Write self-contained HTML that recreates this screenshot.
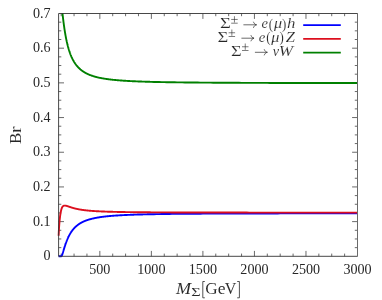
<!DOCTYPE html>
<html><head><meta charset="utf-8"><title>Br plot</title>
<style>html,body{margin:0;padding:0;background:#fff}svg{display:block;will-change:transform}text{font-family:"Liberation Serif",serif;fill:#262626;stroke:#fff;stroke-width:0.13px}.i{font-style:italic}.t{stroke:none}.a{stroke-width:0.06px}</style></head><body>
<svg width="382" height="300" viewBox="0 0 382 300">
<rect width="382" height="300" fill="#fff"/>
<defs><clipPath id="c"><rect x="57.10" y="13.00" width="300.60" height="245.30"/></clipPath></defs>
<path d="M61.18 256.30V253.60M61.18 13.50V16.20M74.06 256.30V253.60M74.06 13.50V16.20M86.94 256.30V253.60M86.94 13.50V16.20M99.83 256.30V250.90M99.83 13.50V18.90M112.71 256.30V253.60M112.71 13.50V16.20M125.59 256.30V253.60M125.59 13.50V16.20M138.48 256.30V253.60M138.48 13.50V16.20M151.36 256.30V250.90M151.36 13.50V18.90M164.25 256.30V253.60M164.25 13.50V16.20M177.13 256.30V253.60M177.13 13.50V16.20M190.01 256.30V253.60M190.01 13.50V16.20M202.90 256.30V250.90M202.90 13.50V18.90M215.78 256.30V253.60M215.78 13.50V16.20M228.66 256.30V253.60M228.66 13.50V16.20M241.55 256.30V253.60M241.55 13.50V16.20M254.43 256.30V250.90M254.43 13.50V18.90M267.31 256.30V253.60M267.31 13.50V16.20M280.20 256.30V253.60M280.20 13.50V16.20M293.08 256.30V253.60M293.08 13.50V16.20M305.97 256.30V250.90M305.97 13.50V18.90M318.85 256.30V253.60M318.85 13.50V16.20M331.73 256.30V253.60M331.73 13.50V16.20M344.62 256.30V253.60M344.62 13.50V16.20M58.60 247.63H61.30M357.50 247.63H354.80M58.60 238.96H61.30M357.50 238.96H354.80M58.60 230.29H61.30M357.50 230.29H354.80M58.60 221.61H64.00M357.50 221.61H352.10M58.60 212.94H61.30M357.50 212.94H354.80M58.60 204.27H61.30M357.50 204.27H354.80M58.60 195.60H61.30M357.50 195.60H354.80M58.60 186.93H64.00M357.50 186.93H352.10M58.60 178.26H61.30M357.50 178.26H354.80M58.60 169.59H61.30M357.50 169.59H354.80M58.60 160.91H61.30M357.50 160.91H354.80M58.60 152.24H64.00M357.50 152.24H352.10M58.60 143.57H61.30M357.50 143.57H354.80M58.60 134.90H61.30M357.50 134.90H354.80M58.60 126.23H61.30M357.50 126.23H354.80M58.60 117.56H64.00M357.50 117.56H352.10M58.60 108.89H61.30M357.50 108.89H354.80M58.60 100.21H61.30M357.50 100.21H354.80M58.60 91.54H61.30M357.50 91.54H354.80M58.60 82.87H64.00M357.50 82.87H352.10M58.60 74.20H61.30M357.50 74.20H354.80M58.60 65.53H61.30M357.50 65.53H354.80M58.60 56.86H61.30M357.50 56.86H354.80M58.60 48.19H64.00M357.50 48.19H352.10M58.60 39.51H61.30M357.50 39.51H354.80M58.60 30.84H61.30M357.50 30.84H354.80M58.60 22.17H61.30M357.50 22.17H354.80" stroke="#444" stroke-width="0.8" fill="none"/>
<g clip-path="url(#c)" fill="none" stroke-width="1.9" stroke-linejoin="round" stroke-linecap="butt">
<path d="M58.60 -49.82 L58.70 -45.58 L58.81 -41.65 L58.91 -38.01 L59.01 -34.63 L59.12 -31.51 L59.22 -28.60 L59.32 -25.91 L59.42 -23.40 L59.53 -21.07 L59.63 -18.90 L59.73 -16.87 L59.84 -14.97 L59.94 -13.20 L60.04 -11.53 L60.15 -9.97 L60.25 -8.50 L60.35 -7.11 L60.46 -5.81 L60.56 -4.58 L60.66 -3.42 L60.76 -2.32 L60.87 -1.28 L60.97 -0.29 L61.07 0.64 L61.18 1.53 L61.28 2.41 L61.38 3.31 L61.49 4.24 L61.59 5.18 L61.69 6.13 L61.80 7.08 L61.90 8.04 L62.00 9.00 L62.10 9.95 L62.21 10.90 L62.31 11.85 L62.41 12.78 L62.52 13.71 L62.62 14.63 L62.72 15.54 L62.83 16.43 L62.93 17.32 L63.03 18.19 L63.14 19.05 L63.24 19.89 L63.34 20.73 L63.44 21.55 L63.55 22.35 L63.65 23.15 L63.75 23.93 L63.86 24.70 L63.96 25.45 L64.06 26.19 L64.17 26.92 L64.27 27.64 L64.37 28.34 L64.47 29.03 L64.58 29.71 L64.68 30.38 L64.78 31.03 L64.89 31.68 L64.99 32.31 L65.09 32.93 L65.20 33.54 L65.30 34.14 L65.40 34.73 L65.51 35.31 L65.61 35.88 L65.71 36.44 L65.81 36.99 L65.92 37.53 L66.02 38.06 L66.12 38.58 L66.23 39.09 L66.33 39.60 L66.43 40.09 L66.54 40.58 L66.64 41.06 L66.74 41.53 L66.85 41.99 L66.95 42.45 L67.05 42.90 L67.15 43.34 L67.26 43.77 L67.36 44.20 L67.46 44.62 L67.57 45.03 L67.67 45.43 L67.77 45.83 L67.88 46.23 L67.98 46.61 L68.08 46.99 L68.19 47.37 L68.29 47.74 L68.39 48.10 L68.49 48.46 L68.60 48.81 L68.70 49.16 L68.80 49.50 L68.91 49.84 L69.01 50.17 L69.11 50.49 L69.22 50.81 L69.32 51.13 L69.42 51.44 L69.53 51.75 L69.63 52.05 L69.73 52.35 L69.83 52.65 L69.94 52.94 L70.04 53.22 L70.14 53.50 L70.25 53.78 L70.35 54.06 L70.45 54.33 L70.56 54.59 L70.66 54.85 L70.76 55.11 L70.87 55.37 L70.97 55.62 L71.07 55.87 L71.17 56.11 L71.28 56.36 L71.38 56.59 L71.48 56.83 L71.59 57.06 L71.69 57.29 L71.79 57.52 L71.90 57.74 L72.00 57.96 L72.10 58.18 L72.21 58.39 L72.31 58.60 L72.41 58.81 L72.51 59.02 L72.62 59.22 L72.72 59.42 L72.82 59.62 L72.93 59.82 L73.03 60.01 L73.13 60.20 L73.24 60.39 L73.34 60.58 L73.44 60.76 L73.55 60.95 L73.65 61.13 L73.75 61.30 L73.85 61.48 L73.96 61.65 L74.06 61.82 L74.16 61.99 L74.27 62.16 L74.37 62.33 L74.47 62.49 L74.58 62.65 L74.68 62.81 L74.78 62.97 L74.88 63.12 L74.99 63.28 L75.09 63.43 L75.19 63.58 L75.30 63.73 L75.40 63.88 L75.50 64.02 L75.61 64.16 L75.71 64.31 L75.81 64.45 L75.92 64.59 L76.02 64.72 L76.12 64.86 L76.22 64.99 L76.33 65.13 L76.43 65.26 L76.53 65.39 L76.64 65.52 L76.74 65.64 L76.84 65.77 L76.95 65.89 L77.05 66.02 L77.15 66.14 L77.26 66.26 L77.36 66.38 L77.46 66.50 L77.56 66.61 L77.67 66.73 L77.77 66.84 L77.87 66.96 L77.98 67.07 L78.08 67.18 L78.18 67.29 L78.29 67.40 L78.39 67.51 L78.49 67.61 L78.60 67.72 L78.70 67.82 L78.80 67.92 L78.90 68.03 L79.01 68.13 L79.11 68.23 L79.21 68.33 L79.32 68.42 L79.42 68.52 L79.52 68.62 L79.63 68.71 L79.73 68.81 L79.83 68.90 L79.94 68.99 L80.04 69.09 L80.14 69.18 L80.24 69.27 L80.35 69.35 L80.45 69.44 L80.55 69.53 L80.66 69.62 L80.76 69.70 L80.86 69.79 L80.97 69.87 L81.07 69.95 L81.17 70.04 L81.28 70.12 L81.38 70.20 L81.48 70.28 L81.58 70.36 L81.69 70.44 L81.79 70.52 L81.89 70.59 L82.00 70.67 L82.10 70.75 L82.20 70.82 L82.31 70.90 L82.41 70.97 L82.51 71.04 L82.62 71.11 L82.72 71.19 L82.82 71.26 L82.92 71.33 L83.03 71.40 L83.13 71.47 L83.23 71.54 L83.34 71.60 L83.44 71.67 L83.54 71.74 L83.65 71.81 L83.75 71.87 L83.85 71.94 L83.95 72.00 L84.06 72.07 L84.16 72.13 L84.26 72.19 L84.37 72.25 L84.47 72.32 L84.57 72.38 L84.68 72.44 L84.78 72.50 L84.88 72.56 L84.99 72.62 L85.09 72.68 L85.19 72.74 L85.29 72.79 L85.40 72.85 L85.50 72.91 L85.60 72.97 L85.71 73.02 L85.81 73.08 L85.91 73.13 L86.02 73.19 L86.12 73.24 L86.22 73.29 L86.33 73.35 L86.43 73.40 L86.53 73.45 L86.63 73.51 L86.74 73.56 L86.84 73.61 L86.94 73.66 L87.05 73.71 L87.15 73.76 L87.25 73.81 L87.36 73.86 L87.46 73.91 L87.56 73.96 L87.67 74.00 L87.77 74.05 L87.87 74.10 L87.97 74.15 L88.08 74.19 L88.18 74.24 L88.28 74.29 L88.39 74.33 L88.49 74.38 L88.59 74.42 L88.70 74.47 L88.80 74.51 L88.90 74.55 L89.01 74.60 L89.11 74.64 L89.21 74.68 L89.31 74.73 L89.42 74.77 L89.52 74.81 L90.04 75.02 L90.55 75.21 L91.07 75.40 L91.58 75.59 L92.10 75.77 L92.61 75.94 L93.13 76.10 L93.64 76.26 L94.16 76.42 L94.67 76.57 L95.19 76.71 L95.70 76.85 L96.22 76.99 L96.74 77.12 L97.25 77.25 L97.77 77.37 L98.28 77.49 L98.80 77.60 L99.31 77.72 L99.83 77.83 L100.34 77.93 L100.86 78.03 L101.37 78.13 L101.89 78.23 L102.40 78.32 L102.92 78.42 L103.44 78.51 L103.95 78.59 L104.47 78.68 L104.98 78.76 L105.50 78.84 L106.01 78.92 L106.53 78.99 L107.04 79.06 L107.56 79.14 L108.07 79.21 L108.59 79.27 L109.10 79.34 L109.62 79.40 L110.13 79.47 L110.65 79.53 L111.17 79.59 L111.68 79.65 L112.20 79.71 L112.71 79.76 L113.23 79.82 L113.74 79.87 L114.26 79.92 L114.77 79.97 L115.29 80.02 L115.80 80.07 L116.32 80.12 L116.83 80.16 L117.35 80.21 L117.86 80.25 L118.38 80.30 L118.90 80.34 L119.41 80.38 L119.93 80.42 L120.44 80.46 L120.96 80.50 L121.47 80.54 L121.99 80.57 L122.50 80.61 L123.02 80.65 L123.53 80.68 L124.05 80.72 L124.56 80.75 L125.08 80.78 L125.59 80.82 L126.11 80.85 L126.63 80.88 L127.14 80.91 L127.66 80.94 L128.17 80.97 L128.69 81.00 L129.20 81.02 L129.72 81.05 L130.23 81.08 L130.75 81.11 L131.26 81.13 L131.78 81.16 L132.29 81.18 L132.81 81.21 L133.32 81.23 L133.84 81.26 L134.36 81.28 L134.87 81.30 L135.39 81.32 L135.90 81.35 L136.42 81.37 L136.93 81.39 L137.45 81.41 L137.96 81.43 L138.48 81.45 L138.99 81.47 L139.51 81.49 L140.02 81.51 L140.54 81.53 L141.06 81.55 L141.57 81.57 L142.09 81.58 L142.60 81.60 L143.12 81.62 L143.63 81.64 L144.15 81.65 L144.66 81.67 L145.18 81.69 L145.69 81.70 L146.21 81.72 L146.72 81.73 L147.24 81.75 L147.75 81.77 L148.27 81.78 L148.79 81.80 L149.30 81.81 L149.82 81.82 L150.33 81.84 L150.85 81.85 L151.36 81.87 L153.94 81.93 L156.52 81.99 L159.09 82.05 L161.67 82.10 L164.25 82.15 L166.82 82.19 L169.40 82.24 L171.98 82.28 L174.55 82.32 L177.13 82.35 L179.71 82.39 L182.28 82.42 L184.86 82.45 L187.44 82.48 L190.01 82.50 L192.59 82.53 L195.17 82.55 L197.74 82.57 L200.32 82.60 L202.90 82.62 L205.47 82.64 L208.05 82.65 L210.63 82.67 L213.20 82.69 L215.78 82.71 L218.36 82.72 L220.93 82.74 L223.51 82.75 L226.09 82.76 L228.66 82.78 L231.24 82.79 L233.82 82.80 L236.39 82.81 L238.97 82.82 L241.55 82.83 L244.12 82.84 L246.70 82.85 L249.28 82.86 L251.85 82.87 L254.43 82.88 L257.01 82.89 L259.58 82.90 L262.16 82.90 L264.74 82.91 L267.31 82.92 L269.89 82.93 L272.47 82.93 L275.04 82.94 L277.62 82.94 L280.20 82.95 L282.77 82.96 L285.35 82.96 L287.93 82.97 L290.51 82.97 L293.08 82.98 L295.66 82.98 L298.24 82.99 L300.81 82.99 L303.39 83.00 L305.97 83.00 L308.54 83.01 L311.12 83.01 L313.70 83.01 L316.27 83.02 L318.85 83.02 L321.43 83.03 L324.00 83.03 L326.58 83.03 L329.16 83.04 L331.73 83.04 L334.31 83.04 L336.89 83.05 L339.46 83.05 L342.04 83.05 L344.62 83.05 L347.19 83.06 L349.77 83.06 L352.35 83.06 L354.92 83.07 L357.50 83.07" stroke="#008000"/>
<path d="M58.60 256.30 L58.70 256.30 L58.81 256.30 L58.91 256.30 L59.01 256.30 L59.12 256.30 L59.22 256.30 L59.32 256.30 L59.42 256.30 L59.53 256.30 L59.63 256.30 L59.73 256.30 L59.84 256.30 L59.94 256.30 L60.04 256.30 L60.15 256.30 L60.25 256.30 L60.35 256.30 L60.46 256.30 L60.56 256.30 L60.66 256.30 L60.76 256.30 L60.87 256.30 L60.97 256.30 L61.07 256.30 L61.18 256.30 L61.28 256.28 L61.38 256.22 L61.49 256.12 L61.59 255.98 L61.69 255.82 L61.80 255.62 L61.90 255.40 L62.00 255.16 L62.10 254.91 L62.21 254.64 L62.31 254.35 L62.41 254.05 L62.52 253.75 L62.62 253.43 L62.72 253.11 L62.83 252.79 L62.93 252.46 L63.03 252.12 L63.14 251.78 L63.24 251.44 L63.34 251.10 L63.44 250.76 L63.55 250.42 L63.65 250.08 L63.75 249.74 L63.86 249.40 L63.96 249.06 L64.06 248.73 L64.17 248.39 L64.27 248.06 L64.37 247.72 L64.47 247.39 L64.58 247.05 L64.68 246.72 L64.78 246.39 L64.89 246.07 L64.99 245.75 L65.09 245.43 L65.20 245.11 L65.30 244.80 L65.40 244.49 L65.51 244.19 L65.61 243.89 L65.71 243.59 L65.81 243.29 L65.92 243.00 L66.02 242.71 L66.12 242.43 L66.23 242.15 L66.33 241.87 L66.43 241.60 L66.54 241.33 L66.64 241.06 L66.74 240.79 L66.85 240.53 L66.95 240.27 L67.05 240.02 L67.15 239.77 L67.26 239.52 L67.36 239.27 L67.46 239.03 L67.57 238.79 L67.67 238.55 L67.77 238.32 L67.88 238.09 L67.98 237.86 L68.08 237.64 L68.19 237.41 L68.29 237.19 L68.39 236.98 L68.49 236.76 L68.60 236.55 L68.70 236.34 L68.80 236.14 L68.91 235.94 L69.01 235.73 L69.11 235.54 L69.22 235.34 L69.32 235.15 L69.42 234.96 L69.53 234.77 L69.63 234.58 L69.73 234.40 L69.83 234.21 L69.94 234.03 L70.04 233.86 L70.14 233.68 L70.25 233.51 L70.35 233.34 L70.45 233.17 L70.56 233.00 L70.66 232.83 L70.76 232.67 L70.87 232.51 L70.97 232.35 L71.07 232.19 L71.17 232.04 L71.28 231.88 L71.38 231.73 L71.48 231.58 L71.59 231.43 L71.69 231.29 L71.79 231.14 L71.90 231.00 L72.00 230.86 L72.10 230.72 L72.21 230.58 L72.31 230.44 L72.41 230.31 L72.51 230.17 L72.62 230.04 L72.72 229.91 L72.82 229.78 L72.93 229.65 L73.03 229.53 L73.13 229.40 L73.24 229.28 L73.34 229.16 L73.44 229.03 L73.55 228.92 L73.65 228.80 L73.75 228.68 L73.85 228.56 L73.96 228.45 L74.06 228.34 L74.16 228.22 L74.27 228.11 L74.37 228.00 L74.47 227.90 L74.58 227.79 L74.68 227.68 L74.78 227.58 L74.88 227.47 L74.99 227.37 L75.09 227.27 L75.19 227.17 L75.30 227.07 L75.40 226.97 L75.50 226.87 L75.61 226.78 L75.71 226.68 L75.81 226.59 L75.92 226.49 L76.02 226.40 L76.12 226.31 L76.22 226.22 L76.33 226.13 L76.43 226.04 L76.53 225.95 L76.64 225.87 L76.74 225.78 L76.84 225.69 L76.95 225.61 L77.05 225.53 L77.15 225.44 L77.26 225.36 L77.36 225.28 L77.46 225.20 L77.56 225.12 L77.67 225.04 L77.77 224.96 L77.87 224.89 L77.98 224.81 L78.08 224.73 L78.18 224.66 L78.29 224.58 L78.39 224.51 L78.49 224.44 L78.60 224.36 L78.70 224.29 L78.80 224.22 L78.90 224.15 L79.01 224.08 L79.11 224.01 L79.21 223.94 L79.32 223.88 L79.42 223.81 L79.52 223.74 L79.63 223.68 L79.73 223.61 L79.83 223.55 L79.94 223.48 L80.04 223.42 L80.14 223.36 L80.24 223.30 L80.35 223.23 L80.45 223.17 L80.55 223.11 L80.66 223.05 L80.76 222.99 L80.86 222.93 L80.97 222.88 L81.07 222.82 L81.17 222.76 L81.28 222.70 L81.38 222.65 L81.48 222.59 L81.58 222.53 L81.69 222.48 L81.79 222.43 L81.89 222.37 L82.00 222.32 L82.10 222.26 L82.20 222.21 L82.31 222.16 L82.41 222.11 L82.51 222.06 L82.62 222.01 L82.72 221.96 L82.82 221.91 L82.92 221.86 L83.03 221.81 L83.13 221.76 L83.23 221.71 L83.34 221.66 L83.44 221.61 L83.54 221.57 L83.65 221.52 L83.75 221.47 L83.85 221.43 L83.95 221.38 L84.06 221.34 L84.16 221.29 L84.26 221.25 L84.37 221.20 L84.47 221.16 L84.57 221.12 L84.68 221.07 L84.78 221.03 L84.88 220.99 L84.99 220.95 L85.09 220.91 L85.19 220.86 L85.29 220.82 L85.40 220.78 L85.50 220.74 L85.60 220.70 L85.71 220.66 L85.81 220.62 L85.91 220.58 L86.02 220.54 L86.12 220.51 L86.22 220.47 L86.33 220.43 L86.43 220.39 L86.53 220.35 L86.63 220.32 L86.74 220.28 L86.84 220.24 L86.94 220.21 L87.05 220.17 L87.15 220.14 L87.25 220.10 L87.36 220.07 L87.46 220.03 L87.56 220.00 L87.67 219.96 L87.77 219.93 L87.87 219.89 L87.97 219.86 L88.08 219.83 L88.18 219.79 L88.28 219.76 L88.39 219.73 L88.49 219.70 L88.59 219.66 L88.70 219.63 L88.80 219.60 L88.90 219.57 L89.01 219.54 L89.11 219.51 L89.21 219.48 L89.31 219.45 L89.42 219.42 L89.52 219.39 L90.04 219.24 L90.55 219.10 L91.07 218.96 L91.58 218.83 L92.10 218.70 L92.61 218.58 L93.13 218.46 L93.64 218.34 L94.16 218.23 L94.67 218.12 L95.19 218.02 L95.70 217.92 L96.22 217.82 L96.74 217.72 L97.25 217.63 L97.77 217.54 L98.28 217.45 L98.80 217.37 L99.31 217.29 L99.83 217.21 L100.34 217.13 L100.86 217.06 L101.37 216.98 L101.89 216.91 L102.40 216.84 L102.92 216.78 L103.44 216.71 L103.95 216.65 L104.47 216.59 L104.98 216.53 L105.50 216.47 L106.01 216.41 L106.53 216.36 L107.04 216.30 L107.56 216.25 L108.07 216.20 L108.59 216.15 L109.10 216.10 L109.62 216.05 L110.13 216.01 L110.65 215.96 L111.17 215.92 L111.68 215.87 L112.20 215.83 L112.71 215.79 L113.23 215.75 L113.74 215.71 L114.26 215.67 L114.77 215.63 L115.29 215.60 L115.80 215.56 L116.32 215.53 L116.83 215.49 L117.35 215.46 L117.86 215.43 L118.38 215.40 L118.90 215.36 L119.41 215.33 L119.93 215.30 L120.44 215.27 L120.96 215.25 L121.47 215.22 L121.99 215.19 L122.50 215.16 L123.02 215.14 L123.53 215.11 L124.05 215.08 L124.56 215.06 L125.08 215.04 L125.59 215.01 L126.11 214.99 L126.63 214.96 L127.14 214.94 L127.66 214.92 L128.17 214.90 L128.69 214.88 L129.20 214.86 L129.72 214.84 L130.23 214.82 L130.75 214.80 L131.26 214.78 L131.78 214.76 L132.29 214.74 L132.81 214.72 L133.32 214.70 L133.84 214.69 L134.36 214.67 L134.87 214.65 L135.39 214.63 L135.90 214.62 L136.42 214.60 L136.93 214.59 L137.45 214.57 L137.96 214.55 L138.48 214.54 L138.99 214.52 L139.51 214.51 L140.02 214.50 L140.54 214.48 L141.06 214.47 L141.57 214.45 L142.09 214.44 L142.60 214.43 L143.12 214.41 L143.63 214.40 L144.15 214.39 L144.66 214.38 L145.18 214.36 L145.69 214.35 L146.21 214.34 L146.72 214.33 L147.24 214.32 L147.75 214.31 L148.27 214.29 L148.79 214.28 L149.30 214.27 L149.82 214.26 L150.33 214.25 L150.85 214.24 L151.36 214.23 L153.94 214.18 L156.52 214.14 L159.09 214.10 L161.67 214.06 L164.25 214.02 L166.82 213.99 L169.40 213.95 L171.98 213.92 L174.55 213.90 L177.13 213.87 L179.71 213.84 L182.28 213.82 L184.86 213.80 L187.44 213.78 L190.01 213.76 L192.59 213.74 L195.17 213.72 L197.74 213.70 L200.32 213.69 L202.90 213.67 L205.47 213.66 L208.05 213.64 L210.63 213.63 L213.20 213.62 L215.78 213.60 L218.36 213.59 L220.93 213.58 L223.51 213.57 L226.09 213.56 L228.66 213.55 L231.24 213.54 L233.82 213.53 L236.39 213.52 L238.97 213.52 L241.55 213.51 L244.12 213.50 L246.70 213.49 L249.28 213.49 L251.85 213.48 L254.43 213.47 L257.01 213.47 L259.58 213.46 L262.16 213.46 L264.74 213.45 L267.31 213.45 L269.89 213.44 L272.47 213.43 L275.04 213.43 L277.62 213.43 L280.20 213.42 L282.77 213.42 L285.35 213.41 L287.93 213.41 L290.51 213.40 L293.08 213.40 L295.66 213.40 L298.24 213.39 L300.81 213.39 L303.39 213.39 L305.97 213.38 L308.54 213.38 L311.12 213.38 L313.70 213.37 L316.27 213.37 L318.85 213.37 L321.43 213.36 L324.00 213.36 L326.58 213.36 L329.16 213.36 L331.73 213.35 L334.31 213.35 L336.89 213.35 L339.46 213.35 L342.04 213.35 L344.62 213.34 L347.19 213.34 L349.77 213.34 L352.35 213.34 L354.92 213.34 L357.50 213.33" stroke="#0000ff"/>
<path d="M58.60 235.83 L58.70 233.71 L58.81 231.74 L58.91 229.92 L59.01 228.23 L59.12 226.67 L59.22 225.22 L59.32 223.87 L59.42 222.62 L59.53 221.45 L59.63 220.37 L59.73 219.35 L59.84 218.40 L59.94 217.52 L60.04 216.68 L60.15 215.90 L60.25 215.17 L60.35 214.47 L60.46 213.82 L60.56 213.21 L60.66 212.63 L60.76 212.08 L60.87 211.56 L60.97 211.06 L61.07 210.60 L61.18 210.15 L61.28 209.74 L61.38 209.36 L61.49 209.00 L61.59 208.68 L61.69 208.38 L61.80 208.11 L61.90 207.86 L62.00 207.63 L62.10 207.42 L62.21 207.22 L62.31 207.05 L62.41 206.88 L62.52 206.73 L62.62 206.60 L62.72 206.48 L62.83 206.36 L62.93 206.26 L63.03 206.17 L63.14 206.09 L63.24 206.01 L63.34 205.94 L63.44 205.88 L63.55 205.83 L63.65 205.79 L63.75 205.74 L63.86 205.71 L63.96 205.68 L64.06 205.65 L64.17 205.63 L64.27 205.62 L64.37 205.60 L64.47 205.59 L64.58 205.59 L64.68 205.58 L64.78 205.58 L64.89 205.59 L64.99 205.59 L65.09 205.60 L65.20 205.61 L65.30 205.62 L65.40 205.63 L65.51 205.65 L65.61 205.67 L65.71 205.69 L65.81 205.71 L65.92 205.73 L66.02 205.75 L66.12 205.77 L66.23 205.80 L66.33 205.82 L66.43 205.85 L66.54 205.88 L66.64 205.91 L66.74 205.94 L66.85 205.97 L66.95 206.00 L67.05 206.03 L67.15 206.06 L67.26 206.09 L67.36 206.12 L67.46 206.16 L67.57 206.19 L67.67 206.22 L67.77 206.26 L67.88 206.29 L67.98 206.33 L68.08 206.36 L68.19 206.40 L68.29 206.43 L68.39 206.47 L68.49 206.50 L68.60 206.54 L68.70 206.57 L68.80 206.61 L68.91 206.64 L69.01 206.68 L69.11 206.71 L69.22 206.75 L69.32 206.78 L69.42 206.82 L69.53 206.85 L69.63 206.89 L69.73 206.92 L69.83 206.96 L69.94 206.99 L70.04 207.03 L70.14 207.06 L70.25 207.10 L70.35 207.13 L70.45 207.16 L70.56 207.20 L70.66 207.23 L70.76 207.27 L70.87 207.30 L70.97 207.33 L71.07 207.37 L71.17 207.40 L71.28 207.43 L71.38 207.47 L71.48 207.50 L71.59 207.53 L71.69 207.56 L71.79 207.59 L71.90 207.63 L72.00 207.66 L72.10 207.69 L72.21 207.72 L72.31 207.75 L72.41 207.78 L72.51 207.81 L72.62 207.84 L72.72 207.87 L72.82 207.90 L72.93 207.93 L73.03 207.96 L73.13 207.99 L73.24 208.02 L73.34 208.05 L73.44 208.08 L73.55 208.11 L73.65 208.14 L73.75 208.16 L73.85 208.19 L73.96 208.22 L74.06 208.25 L74.16 208.27 L74.27 208.30 L74.37 208.33 L74.47 208.35 L74.58 208.38 L74.68 208.41 L74.78 208.43 L74.88 208.46 L74.99 208.49 L75.09 208.51 L75.19 208.54 L75.30 208.56 L75.40 208.59 L75.50 208.61 L75.61 208.64 L75.71 208.66 L75.81 208.68 L75.92 208.71 L76.02 208.73 L76.12 208.76 L76.22 208.78 L76.33 208.80 L76.43 208.83 L76.53 208.85 L76.64 208.87 L76.74 208.89 L76.84 208.92 L76.95 208.94 L77.05 208.96 L77.15 208.98 L77.26 209.00 L77.36 209.03 L77.46 209.05 L77.56 209.07 L77.67 209.09 L77.77 209.11 L77.87 209.13 L77.98 209.15 L78.08 209.17 L78.18 209.19 L78.29 209.21 L78.39 209.23 L78.49 209.25 L78.60 209.27 L78.70 209.29 L78.80 209.31 L78.90 209.33 L79.01 209.35 L79.11 209.37 L79.21 209.39 L79.32 209.41 L79.42 209.42 L79.52 209.44 L79.63 209.46 L79.73 209.48 L79.83 209.50 L79.94 209.51 L80.04 209.53 L80.14 209.55 L80.24 209.57 L80.35 209.58 L80.45 209.60 L80.55 209.62 L80.66 209.63 L80.76 209.65 L80.86 209.67 L80.97 209.68 L81.07 209.70 L81.17 209.72 L81.28 209.73 L81.38 209.75 L81.48 209.76 L81.58 209.78 L81.69 209.80 L81.79 209.81 L81.89 209.83 L82.00 209.84 L82.10 209.86 L82.20 209.87 L82.31 209.89 L82.41 209.90 L82.51 209.92 L82.62 209.93 L82.72 209.95 L82.82 209.96 L82.92 209.97 L83.03 209.99 L83.13 210.00 L83.23 210.02 L83.34 210.03 L83.44 210.04 L83.54 210.06 L83.65 210.07 L83.75 210.08 L83.85 210.10 L83.95 210.11 L84.06 210.12 L84.16 210.14 L84.26 210.15 L84.37 210.16 L84.47 210.18 L84.57 210.19 L84.68 210.20 L84.78 210.21 L84.88 210.23 L84.99 210.24 L85.09 210.25 L85.19 210.26 L85.29 210.28 L85.40 210.29 L85.50 210.30 L85.60 210.31 L85.71 210.32 L85.81 210.33 L85.91 210.35 L86.02 210.36 L86.12 210.37 L86.22 210.38 L86.33 210.39 L86.43 210.40 L86.53 210.41 L86.63 210.42 L86.74 210.44 L86.84 210.45 L86.94 210.46 L87.05 210.47 L87.15 210.48 L87.25 210.49 L87.36 210.50 L87.46 210.51 L87.56 210.52 L87.67 210.53 L87.77 210.54 L87.87 210.55 L87.97 210.56 L88.08 210.57 L88.18 210.58 L88.28 210.59 L88.39 210.60 L88.49 210.61 L88.59 210.62 L88.70 210.63 L88.80 210.64 L88.90 210.65 L89.01 210.66 L89.11 210.67 L89.21 210.68 L89.31 210.68 L89.42 210.69 L89.52 210.70 L90.04 210.75 L90.55 210.79 L91.07 210.83 L91.58 210.87 L92.10 210.91 L92.61 210.95 L93.13 210.99 L93.64 211.02 L94.16 211.06 L94.67 211.09 L95.19 211.12 L95.70 211.15 L96.22 211.18 L96.74 211.21 L97.25 211.24 L97.77 211.27 L98.28 211.30 L98.80 211.32 L99.31 211.35 L99.83 211.37 L100.34 211.40 L100.86 211.42 L101.37 211.44 L101.89 211.47 L102.40 211.49 L102.92 211.51 L103.44 211.53 L103.95 211.55 L104.47 211.57 L104.98 211.59 L105.50 211.61 L106.01 211.63 L106.53 211.64 L107.04 211.66 L107.56 211.68 L108.07 211.69 L108.59 211.71 L109.10 211.73 L109.62 211.74 L110.13 211.76 L110.65 211.77 L111.17 211.78 L111.68 211.80 L112.20 211.81 L112.71 211.82 L113.23 211.84 L113.74 211.85 L114.26 211.86 L114.77 211.87 L115.29 211.89 L115.80 211.90 L116.32 211.91 L116.83 211.92 L117.35 211.93 L117.86 211.94 L118.38 211.95 L118.90 211.96 L119.41 211.97 L119.93 211.98 L120.44 211.99 L120.96 212.00 L121.47 212.01 L121.99 212.02 L122.50 212.03 L123.02 212.04 L123.53 212.04 L124.05 212.05 L124.56 212.06 L125.08 212.07 L125.59 212.08 L126.11 212.08 L126.63 212.09 L127.14 212.10 L127.66 212.11 L128.17 212.11 L128.69 212.12 L129.20 212.13 L129.72 212.13 L130.23 212.14 L130.75 212.15 L131.26 212.15 L131.78 212.16 L132.29 212.16 L132.81 212.17 L133.32 212.18 L133.84 212.18 L134.36 212.19 L134.87 212.19 L135.39 212.20 L135.90 212.20 L136.42 212.21 L136.93 212.21 L137.45 212.22 L137.96 212.22 L138.48 212.23 L138.99 212.23 L139.51 212.24 L140.02 212.24 L140.54 212.25 L141.06 212.25 L141.57 212.26 L142.09 212.26 L142.60 212.27 L143.12 212.27 L143.63 212.27 L144.15 212.28 L144.66 212.28 L145.18 212.29 L145.69 212.29 L146.21 212.29 L146.72 212.30 L147.24 212.30 L147.75 212.31 L148.27 212.31 L148.79 212.31 L149.30 212.32 L149.82 212.32 L150.33 212.32 L150.85 212.33 L151.36 212.33 L153.94 212.35 L156.52 212.36 L159.09 212.38 L161.67 212.39 L164.25 212.40 L166.82 212.41 L169.40 212.42 L171.98 212.43 L174.55 212.44 L177.13 212.45 L179.71 212.46 L182.28 212.47 L184.86 212.47 L187.44 212.48 L190.01 212.49 L192.59 212.49 L195.17 212.50 L197.74 212.51 L200.32 212.51 L202.90 212.52 L205.47 212.52 L208.05 212.53 L210.63 212.53 L213.20 212.53 L215.78 212.54 L218.36 212.54 L220.93 212.55 L223.51 212.55 L226.09 212.55 L228.66 212.56 L231.24 212.56 L233.82 212.56 L236.39 212.56 L238.97 212.57 L241.55 212.57 L244.12 212.57 L246.70 212.57 L249.28 212.58 L251.85 212.58 L254.43 212.58 L257.01 212.58 L259.58 212.58 L262.16 212.59 L264.74 212.59 L267.31 212.59 L269.89 212.59 L272.47 212.59 L275.04 212.60 L277.62 212.60 L280.20 212.60 L282.77 212.60 L285.35 212.60 L287.93 212.60 L290.51 212.60 L293.08 212.61 L295.66 212.61 L298.24 212.61 L300.81 212.61 L303.39 212.61 L305.97 212.61 L308.54 212.61 L311.12 212.61 L313.70 212.61 L316.27 212.62 L318.85 212.62 L321.43 212.62 L324.00 212.62 L326.58 212.62 L329.16 212.62 L331.73 212.62 L334.31 212.62 L336.89 212.62 L339.46 212.62 L342.04 212.62 L344.62 212.62 L347.19 212.63 L349.77 212.63 L352.35 212.63 L354.92 212.63 L357.50 212.63" stroke="#dc0f1e"/>
</g>
<path d="M357.00 13.50H58.60V256.30H357.00" fill="none" stroke="#333" stroke-width="0.9" stroke-linecap="butt"/>
<path d="M357.50 13.05V256.75" fill="none" stroke="#6a6a6a" stroke-width="1"/>
<path d="M303.2 25.0H340.8" stroke="#0000ff" stroke-width="1.75" fill="none"/>
<path d="M303.2 38.9H340.8" stroke="#dc0f1e" stroke-width="1.75" fill="none"/>
<path d="M303.2 52.7H340.8" stroke="#008000" stroke-width="1.75" fill="none"/>
<text class="t" x="99.83" y="273.9" font-size="14.1" text-anchor="middle">500</text>
<text class="t" x="151.36" y="273.9" font-size="14.1" text-anchor="middle">1000</text>
<text class="t" x="202.90" y="273.9" font-size="14.1" text-anchor="middle">1500</text>
<text class="t" x="254.43" y="273.9" font-size="14.1" text-anchor="middle">2000</text>
<text class="t" x="305.97" y="273.9" font-size="14.1" text-anchor="middle">2500</text>
<text class="t" x="357.50" y="273.9" font-size="14.1" text-anchor="middle">3000</text>
<text class="t" x="50.6" y="260.40" font-size="14.1" text-anchor="end">0</text>
<text class="t" x="50.6" y="225.71" font-size="14.1" text-anchor="end">0.1</text>
<text class="t" x="50.6" y="191.03" font-size="14.1" text-anchor="end">0.2</text>
<text class="t" x="50.6" y="156.34" font-size="14.1" text-anchor="end">0.3</text>
<text class="t" x="50.6" y="121.66" font-size="14.1" text-anchor="end">0.4</text>
<text class="t" x="50.6" y="86.97" font-size="14.1" text-anchor="end">0.5</text>
<text class="t" x="50.6" y="52.29" font-size="14.1" text-anchor="end">0.6</text>
<text class="t" x="50.6" y="17.60" font-size="14.1" text-anchor="end">0.7</text>
<text transform="translate(220.07 28.30) scale(1.297 1)" font-size="14.40">Σ</text>
<path d="M231.20 19.45H237.70 M234.45 16.20V22.50 M231.20 23.20H237.70" stroke="#262626" stroke-width="0.60" fill="none"/>
<path d="M243.80 24.80H256.20 M253.50 22.10C254.00 23.60 255.20 24.50 256.50 24.80 C255.20 25.10 254.00 26.00 253.50 27.50" stroke="#262626" stroke-width="0.68" fill="none" stroke-linecap="round"/>
<text class="i" transform="translate(261.55 28.30) scale(1.013 1)" font-size="14.40">e</text>
<text transform="translate(268.74 28.80) scale(0.840 1)" font-size="15.30">(</text>
<text class="i" transform="translate(274.02 28.30) scale(1.124 1)" font-size="14.40">μ</text>
<text transform="translate(281.89 28.80) scale(0.840 1)" font-size="15.30">)</text>
<text class="i" transform="translate(287.09 28.30) scale(1.167 1)" font-size="14.40">h</text>
<text transform="translate(217.48 41.70) scale(1.283 1)" font-size="14.40">Σ</text>
<path d="M228.60 32.75H235.10 M231.85 29.50V35.80 M228.60 36.50H235.10" stroke="#262626" stroke-width="0.60" fill="none"/>
<path d="M241.80 38.20H253.70 M251.00 35.50C251.50 37.00 252.70 37.90 254.00 38.20 C252.70 38.50 251.50 39.40 251.00 40.90" stroke="#262626" stroke-width="0.68" fill="none" stroke-linecap="round"/>
<text class="i" transform="translate(258.84 41.70) scale(1.031 1)" font-size="14.40">e</text>
<text transform="translate(266.14 42.20) scale(0.840 1)" font-size="15.30">(</text>
<text class="i" transform="translate(271.32 41.70) scale(1.124 1)" font-size="14.40">μ</text>
<text transform="translate(279.49 42.20) scale(0.840 1)" font-size="15.30">)</text>
<text class="i" transform="translate(285.70 41.70) scale(1.144 1)" font-size="14.40">Z</text>
<text transform="translate(231.09 55.80) scale(1.269 1)" font-size="14.40">Σ</text>
<path d="M242.00 46.75H248.50 M245.25 43.50V49.80 M242.00 50.50H248.50" stroke="#262626" stroke-width="0.60" fill="none"/>
<path d="M255.30 52.30H267.00 M264.30 49.60C264.80 51.10 266.00 52.00 267.30 52.30 C266.00 52.60 264.80 53.50 264.30 55.00" stroke="#262626" stroke-width="0.68" fill="none" stroke-linecap="round"/>
<text class="i" transform="translate(272.71 55.80) scale(0.985 1)" font-size="14.40">ν</text>
<text class="i" transform="translate(278.77 55.80) scale(1.195 1)" font-size="14.40">W</text>
<text class="a" transform="translate(21.20 143.89) rotate(-90) scale(0.986 1)" font-size="17.20">B</text>
<text class="a" transform="translate(21.20 133.09) rotate(-90) scale(1.147 1)" font-size="17.20">r</text>
<text class="i a" transform="translate(175.91 293.70) scale(1.051 1)" font-size="17.20">M</text>
<text class="a" transform="translate(191.37 296.40) scale(1.289 1)" font-size="12.60">Σ</text>
<path d="M204.80 281.50H202.80V297.80H204.80" stroke="#262626" stroke-width="0.8" fill="none"/>
<text class="a" transform="translate(205.29 293.70) scale(1.002 1)" font-size="17.20">G</text>
<text class="a" transform="translate(217.71 293.70) scale(1.021 1)" font-size="17.20">e</text>
<text class="a" transform="translate(224.82 293.70) scale(0.931 1)" font-size="17.20">V</text>
<path d="M237.20 281.50H239.40V297.80H237.20" stroke="#262626" stroke-width="0.8" fill="none"/>
</svg></body></html>
